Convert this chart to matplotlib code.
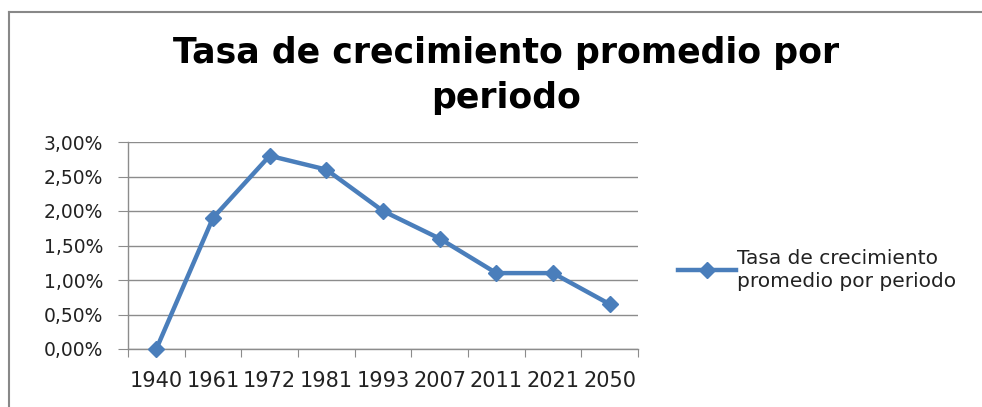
import matplotlib
matplotlib.use("Agg")
import matplotlib.pyplot as plt
from matplotlib.lines import Line2D
from matplotlib.ticker import FuncFormatter, MultipleLocator

categories = ["1940", "1961", "1972", "1981", "1993", "2007", "2011", "2021", "2050"]
values = [0.0, 1.9, 2.8, 2.6, 2.0, 1.6, 1.1, 1.1, 0.65]
series_name = "Tasa de crecimiento\npromedio por periodo"
title = "Tasa de crecimiento promedio por\nperiodo"

W, H = 982, 407
fig = plt.figure(figsize=(W / 100, H / 100), dpi=100)
fig.patch.set_facecolor("white")

# outer chart border (left and top visible)
fig.add_artist(Line2D([9 / W, 9 / W], [0, 1 - 12 / H], transform=fig.transFigure,
                      color="#888888", lw=1.5))
fig.add_artist(Line2D([9 / W, 1], [1 - 12 / H, 1 - 12 / H], transform=fig.transFigure,
                      color="#888888", lw=1.5))

left, right = 128, 638
top, bottom = 142, 349
ax = fig.add_axes([left / W, 1 - bottom / H, (right - left) / W, (bottom - top) / H])

x = list(range(len(categories)))
color = "#4A7EBB"
ax.plot(x, values, color=color, lw=3.2, marker="D", markersize=8.5,
        markeredgecolor=color, markerfacecolor=color, label=series_name, clip_on=False,
        zorder=5)

ax.set_xlim(-0.5, len(categories) - 0.5)
ax.set_ylim(0, 3.0)
ax.yaxis.set_major_locator(MultipleLocator(0.5))
ax.yaxis.set_major_formatter(FuncFormatter(lambda v, p: f"{v:.2f}".replace(".", ",") + "%"))
ax.grid(axis="y", color="#8c8c8c", lw=1)
ax.set_axisbelow(True)

ax.set_xticks([i - 0.5 for i in range(len(categories) + 1)])
ax.set_xticklabels([])
ax.set_xticks(x, minor=True)
ax.set_xticklabels(categories, minor=True)
ax.tick_params(axis="x", which="minor", length=0, pad=16, labelsize=15, labelcolor="#222222")
ax.tick_params(axis="x", which="major", length=6, color="#8c8c8c", direction="out")
ax.tick_params(axis="y", length=7, color="#8c8c8c", labelsize=13.5, labelcolor="#222222", pad=11)

for s in ["top", "right"]:
    ax.spines[s].set_visible(False)
for s in ["left", "bottom"]:
    ax.spines[s].set_color("#8c8c8c")
    ax.spines[s].set_linewidth(1)

fig.text(0.5 * (172 + 840) / W, 1 - 36 / H, title, ha="center", va="top",
         fontsize=25, fontweight="bold", color="black", linespacing=1.42)

leg = fig.legend(loc="center left", bbox_to_anchor=(670 / W, 1 - 270 / H),
                 frameon=False, fontsize=14.5, handlelength=2.9, handletextpad=0.05,
                 borderaxespad=0)
for t in leg.get_texts():
    t.set_color("#222222")
    t.set_linespacing(1.3)

fig.savefig("out.png", dpi=100, facecolor="white")
